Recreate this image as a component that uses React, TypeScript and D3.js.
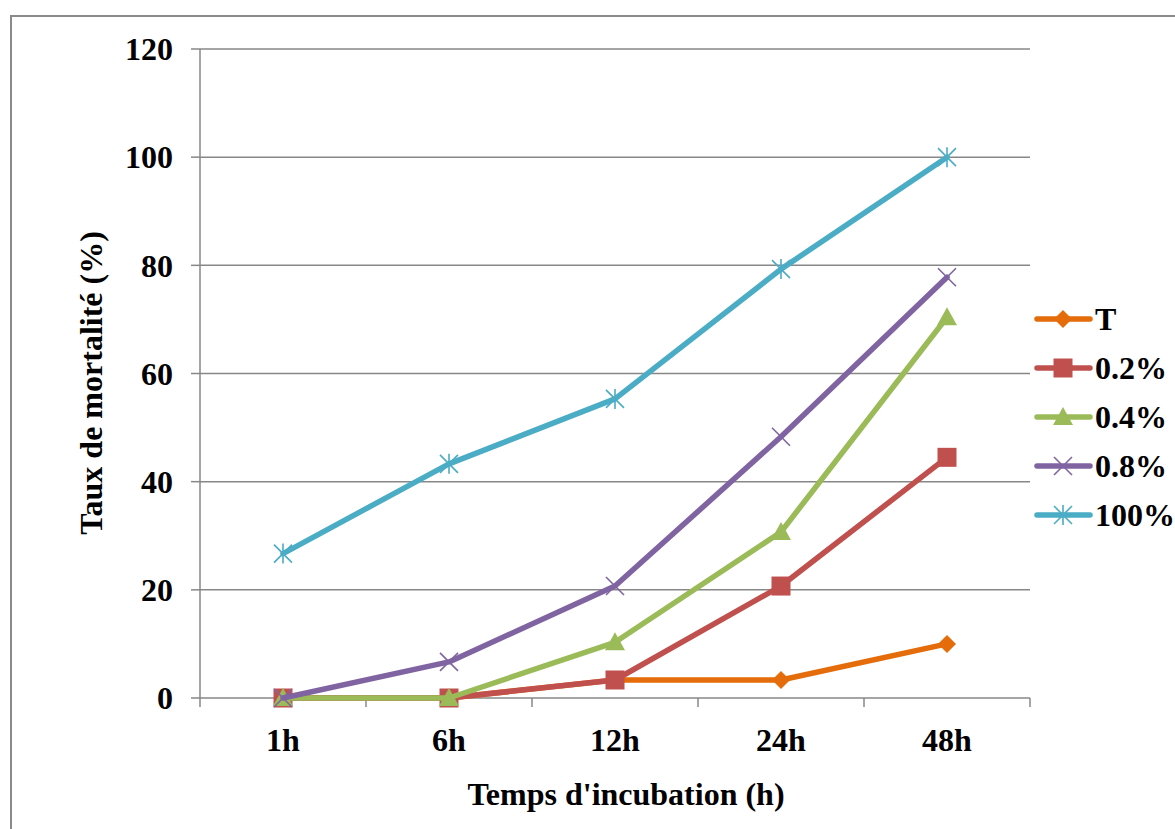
import React, { useEffect, useRef } from "react";
import * as d3 from "d3";

const categories = ["1h", "6h", "12h", "24h", "48h"];
const seriesNames = ["T", "0.2%", "0.4%", "0.8%", "100%"];
const valuesT = [0, 0, 3.33, 3.33, 10];
const values02 = [0, 0, 3.33, 20.7, 44.5];
const values04 = [0, 0, 10.3, 30.7, 70.4];
const values08 = [0, 6.67, 20.7, 48.3, 77.8];
const values100 = [26.7, 43.3, 55.3, 79.3, 100];
const yTicks = [0, 20, 40, 60, 80, 100, 120];
const colors = ["#E46C0A", "#C0504D", "#9BBB59", "#8064A2", "#4BACC6"];
const markers = ["diamond", "square", "triangle", "x", "star"];

const W = 1175;
const H = 829;
const FONT = "'Liberation Serif', 'Times New Roman', serif";
const FS = 32;

function drawMarker(g: any, kind: string, x: number, y: number, color: string) {
  if (kind === "diamond") {
    const s = 9;
    g.append("path")
      .attr("d", `M${x},${y - s}L${x + s},${y}L${x},${y + s}L${x - s},${y}Z`)
      .attr("fill", color);
  } else if (kind === "square") {
    const s = 9.5;
    g.append("rect")
      .attr("x", x - s).attr("y", y - s)
      .attr("width", 2 * s).attr("height", 2 * s)
      .attr("fill", color);
  } else if (kind === "triangle") {
    const s = 10;
    g.append("path")
      .attr("d", `M${x},${y - s}L${x + s},${y + s * 0.8}L${x - s},${y + s * 0.8}Z`)
      .attr("fill", color);
  } else if (kind === "x") {
    const s = 9;
    g.append("path")
      .attr("d", `M${x - s},${y - s}L${x + s},${y + s}M${x - s},${y + s}L${x + s},${y - s}`)
      .attr("stroke", color).attr("stroke-width", 1.6).attr("fill", "none");
  } else {
    const s = 9;
    g.append("path")
      .attr("d", `M${x - s},${y - s}L${x + s},${y + s}M${x - s},${y + s}L${x + s},${y - s}M${x},${y - s - 1}L${x},${y + s + 1}`)
      .attr("stroke", color).attr("stroke-width", 1.6).attr("fill", "none");
  }
}

export default function App() {
  const ref = useRef<SVGSVGElement | null>(null);

  useEffect(() => {
    const svg = d3.select(ref.current);
    svg.selectAll("*").remove();

    const left = 200, right = 1030, top = 49, bottom = 698;
    const x = d3.scaleBand().domain(categories).range([left, right]);
    const y = d3.scaleLinear().domain([0, 120]).range([bottom, top]);
    const axisColor = "#878787";

    // chart frame
    svg.append("rect")
      .attr("x", 11).attr("y", 16)
      .attr("width", W + 20).attr("height", H + 20)
      .attr("fill", "white").attr("stroke", "#8a8a8a").attr("stroke-width", 2);

    // horizontal gridlines and y ticks
    const grid = svg.append("g");
    yTicks.forEach((t) => {
      if (t > 0) {
        grid.append("line")
          .attr("x1", left).attr("x2", right)
          .attr("y1", y(t)).attr("y2", y(t))
          .attr("stroke", axisColor).attr("stroke-width", 1.5);
      }
      grid.append("line")
        .attr("x1", left - 9).attr("x2", left)
        .attr("y1", y(t)).attr("y2", y(t))
        .attr("stroke", axisColor).attr("stroke-width", 1.5);
      grid.append("text")
        .attr("x", 173).attr("y", y(t))
        .attr("dy", "0.35em")
        .attr("text-anchor", "end")
        .attr("font-family", FONT).attr("font-weight", "bold").attr("font-size", FS)
        .attr("fill", "#000")
        .text(String(t));
    });

    // axes
    grid.append("line")
      .attr("x1", left).attr("x2", left).attr("y1", top).attr("y2", bottom)
      .attr("stroke", axisColor).attr("stroke-width", 1.5);
    grid.append("line")
      .attr("x1", left).attr("x2", right).attr("y1", bottom).attr("y2", bottom)
      .attr("stroke", axisColor).attr("stroke-width", 1.5);
    const boundaries = categories.map((c) => x(c) as number).concat([right]);
    boundaries.forEach((b) => {
      grid.append("line")
        .attr("x1", b).attr("x2", b).attr("y1", bottom).attr("y2", bottom + 9)
        .attr("stroke", axisColor).attr("stroke-width", 1.5);
    });
    categories.forEach((c) => {
      grid.append("text")
        .attr("x", (x(c) as number) + x.bandwidth() / 2).attr("y", 751)
        .attr("text-anchor", "middle")
        .attr("font-family", FONT).attr("font-weight", "bold").attr("font-size", FS)
        .text(c);
    });

    // axis titles
    svg.append("text")
      .attr("x", 626).attr("y", 805)
      .attr("text-anchor", "middle")
      .attr("font-family", FONT).attr("font-weight", "bold").attr("font-size", FS)
      .text("Temps d'incubation (h)");
    svg.append("text")
      .attr("transform", `translate(102,383) rotate(-90)`)
      .attr("text-anchor", "middle")
      .attr("font-family", FONT).attr("font-weight", "bold").attr("font-size", FS)
      .text("Taux de mortalité (%)");

    // series
    const allValues = [valuesT, values02, values04, values08, values100];
    const line = d3.line<number>()
      .x((_, i) => (x(categories[i]) as number) + x.bandwidth() / 2)
      .y((d) => y(d));
    allValues.forEach((vals, si) => {
      const g = svg.append("g");
      g.append("path")
        .attr("d", line(vals))
        .attr("fill", "none")
        .attr("stroke", colors[si])
        .attr("stroke-width", 5.5)
        .attr("stroke-linejoin", "round")
        .attr("stroke-linecap", "round");
      vals.forEach((v, i) => {
        drawMarker(g, markers[si], (x(categories[i]) as number) + x.bandwidth() / 2, y(v), colors[si]);
      });
    });

    // legend
    const lg = svg.append("g");
    seriesNames.forEach((name, i) => {
      const cy = 319 + i * 49;
      lg.append("line")
        .attr("x1", 1037).attr("x2", 1090).attr("y1", cy).attr("y2", cy)
        .attr("stroke", colors[i]).attr("stroke-width", 5.5)
        .attr("stroke-linecap", "round");
      drawMarker(lg, markers[i], 1063, cy, colors[i]);
      lg.append("text")
        .attr("x", 1095).attr("y", cy)
        .attr("dy", "0.35em")
        .attr("font-family", FONT).attr("font-weight", "bold").attr("font-size", FS)
        .text(name);
    });
  }, []);

  return (
    <svg
      ref={ref}
      width={W}
      height={H}
      style={{ position: "absolute", left: 0, top: 0, background: "white" }}
    />
  );
}
